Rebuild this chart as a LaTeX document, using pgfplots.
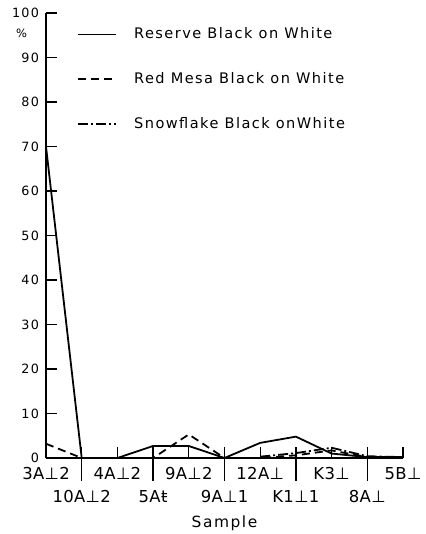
\documentclass[border=0pt]{standalone}
\usepackage{pgfplots}
\pgfplotsset{compat=1.18}
\usepackage{fontspec}
\setmainfont{DejaVu Sans}[LetterSpace=10]
\newfontfamily\xlab{DejaVu Sans}[LetterSpace=2]
\begin{document}
\begin{tikzpicture}
\begin{axis}[
  name=ax,
  scale only axis,
  width=357bp, height=445bp,
  xmin=0, xmax=10, ymin=0, ymax=100,
  axis x line=bottom, axis y line=left,
  axis line style={-, line width=1.4pt},
  clip=false,
  xtick={0,...,10},
  xticklabels={3A⊥2,{\raisebox{-23bp}{10A⊥2}},4A⊥2,{\raisebox{-23bp}{5Aŧ}},9A⊥2,{\raisebox{-23bp}{9A⊥1}},12A⊥,{\raisebox{-23bp}{K1⊥1}},K3⊥,{\raisebox{-23bp}{8A⊥}},5B⊥},
  extra x ticks={1,3,5,7,9},
  extra x tick labels={},
  extra x tick style={tick align=outside, major tick length=23bp},
  ytick={0,10,...,100},
  tick align=inside,
  major tick length=11bp,
  tick style={line width=1.4pt, black},
  /pgf/number format/assume math mode=true,
  yticklabel style={font=\fontsize{12.8}{14}\selectfont, xshift=-3.5bp},
  xticklabel style={font=\xlab\fontsize{16.5}{18}\selectfont, anchor=base, yshift=-21bp},
  xlabel={Sample},
  xlabel style={at={(axis description cs:0.5,0)}, anchor=base, yshift=-69bp, font=\fontsize{15.5}{18}\selectfont},
  legend cell align=left,
  legend style={at={(0.087,0.968)}, anchor=north west, draw=none, fill=none,
    row sep=31pt, inner sep=0pt,
    nodes={inner sep=0pt, text height=11pt, text depth=3pt, font=\fontsize{14.6}{17}\selectfont}},
  legend image code/.code={\draw[#1] (0bp,0bp) -- (38bp,0bp); \path[draw=none] (0bp,0bp) -- (56bp,0bp);},
]
\addplot[black, line width=1.8pt] coordinates {(0,70) (1,0) (2,0) (3,2.7) (4,2.7) (5,0) (6,3.4) (7,4.8) (8,1.0) (9,0.2) (10,0.2)};
\addlegendentry{Reserve Black on White}
\addplot[black, line width=1.8pt, dash pattern=on 8bp off 5bp] coordinates {(0,3.2) (1,0) (2,0) (3,0) (4,5.3) (5,0) (6,0) (7,0.6) (8,1.7) (9,0.2) (10,0)};
\addlegendentry{Red Mesa Black on White}
\addplot[black, line width=1.8pt, dash pattern=on 10bp off 3bp on 2bp off 3bp] coordinates {(6,0.3) (7,1.1) (8,2.3) (9,0.4) (10,0.2)};
\addlegendentry{Snowflake Black onWhite}
\node at (axis cs:0,95.5) [xshift=-24.5bp, font=\fontsize{11.5}{13}\selectfont] {\%};
\end{axis}
\pgfresetboundingbox
\path ([shift={(-46bp,-76bp)}]ax.south west) rectangle ([shift={(23bp,13bp)}]ax.north east);
\end{tikzpicture}
\end{document}
